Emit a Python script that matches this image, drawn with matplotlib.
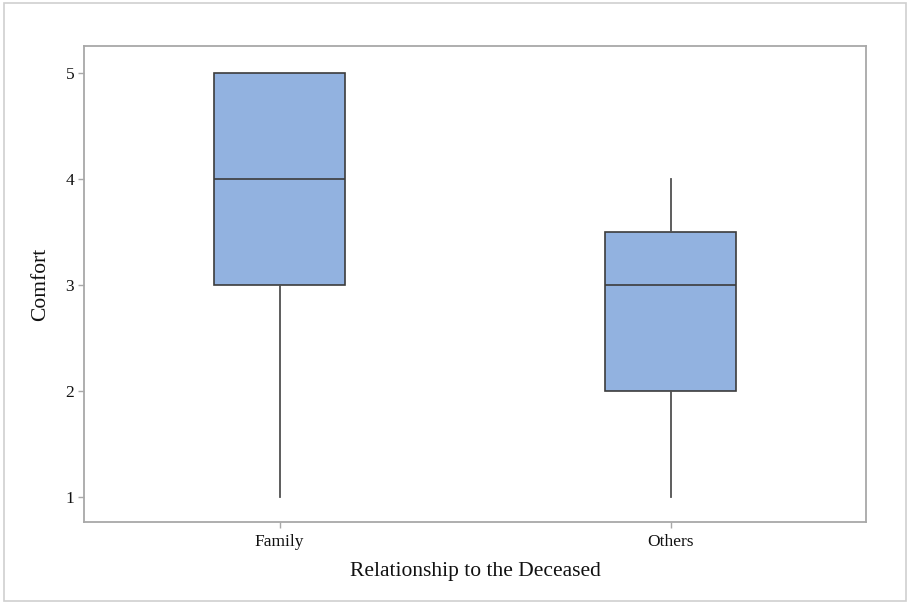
import matplotlib
matplotlib.use("Agg")
import matplotlib.pyplot as plt
from matplotlib.patches import Rectangle

categories = ["Family", "Others"]
q1 = [3.0, 2.0]
median = [4.0, 3.0]
q3 = [5.0, 3.5]
whisker_low = [1.0, 1.0]
whisker_high = [5.0, 4.0]
y_ticks = [1, 2, 3, 4, 5]

plt.rcParams["font.family"] = ["Liberation Serif", "DejaVu Serif"]

fig = plt.figure(figsize=(9.08, 6.04), dpi=100)
W, H = 908, 604
ax = fig.add_axes([84 / W, 1 - 522 / H, (866 - 84) / W, (522 - 46) / H])

stats = []
for c, a, m, b, lo, hi in zip(categories, q1, median, q3, whisker_low, whisker_high):
    stats.append(dict(label=c, q1=a, med=m, q3=b, whislo=lo, whishi=hi, fliers=[]))

ax.bxp(stats, positions=[1, 2], widths=0.333, patch_artist=True, showcaps=False,
       boxprops=dict(facecolor="#92b2e0", edgecolor="#3c3c3c", linewidth=1.2),
       medianprops=dict(color="#3c3c3c", linewidth=1.2),
       whiskerprops=dict(color="#505050", linewidth=1.3))

ax.set_xlim(0.5, 2.5)
ax.set_ylim(0.76, 5.255)
ax.set_yticks(y_ticks)
ax.set_xticks([1, 2])
ax.set_xticklabels(categories)

for s in ax.spines.values():
    s.set_color("#a8a8a8")
    s.set_linewidth(1.3)
ax.tick_params(axis="both", colors="#a8a8a8", labelcolor="#111111",
               length=4, width=1, labelsize=12.5)
ax.tick_params(axis="x", pad=5)
ax.tick_params(axis="y", pad=3)
ax.set_xlabel("Relationship to the Deceased", fontsize=15.5, color="#111111", labelpad=8)
ax.set_ylabel("Comfort", fontsize=15.5, color="#111111", labelpad=11)

fig.patches.append(Rectangle((4 / W, 1 - 601 / H), (906 - 4) / W, (601 - 3) / H,
                             transform=fig.transFigure, fill=False,
                             edgecolor="#cfcfcf", linewidth=1.2))

fig.savefig("out.png", dpi=100)
